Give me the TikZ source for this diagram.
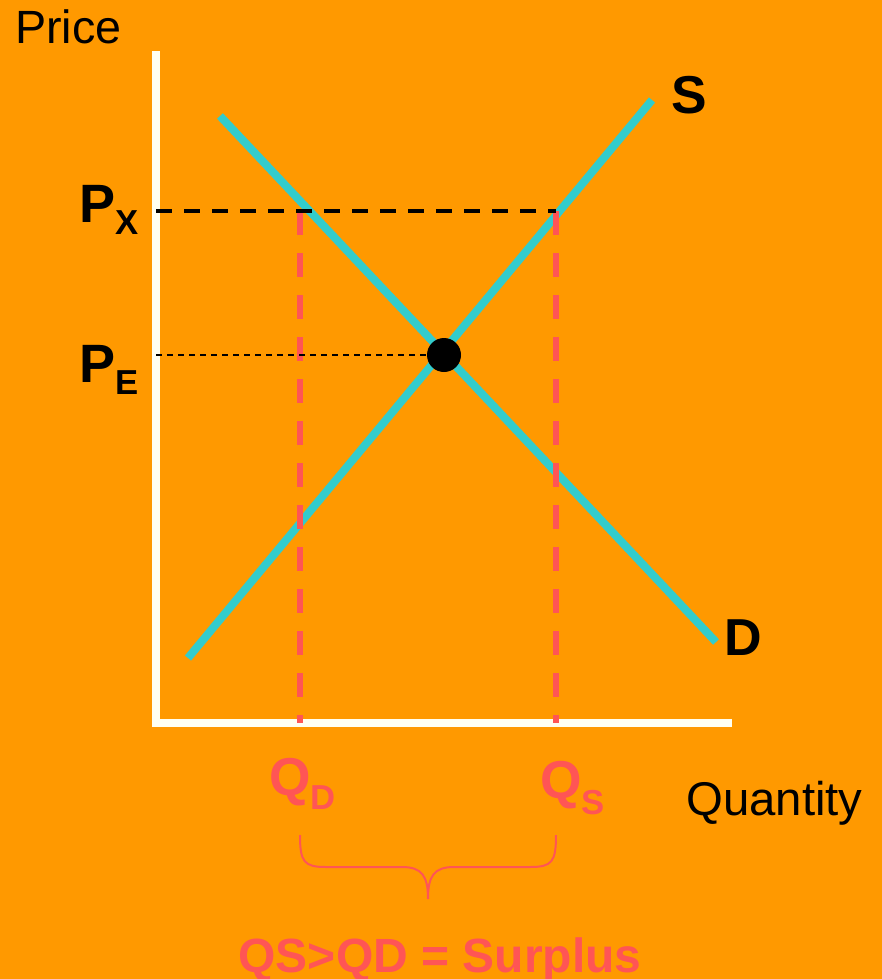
\documentclass[tikz,border=0pt]{standalone}
\usepackage{fontspec}
\setmainfont{Liberation Sans}
\definecolor{bgorange}{HTML}{FF9900}
\definecolor{axiswhite}{HTML}{FFFFF2}
\definecolor{curvecyan}{HTML}{33CCCC}
\definecolor{surplusred}{HTML}{FF5555}
\tikzset{
  axisline/.style={draw=axiswhite, line width=6pt},
  curveline/.style={draw=curvecyan, line width=6pt},
  qline/.style={draw=surplusred, line width=4.5pt, dash pattern=on 18pt off 13.5pt},
  pxline/.style={draw=black, line width=3pt, dash pattern=on 12pt off 9pt},
  peline/.style={draw=black, line width=1.5pt, dash pattern=on 4.5pt off 3.75pt},
  bracestyle/.style={draw=surplusred, line width=1.5pt},
  lbl/.style={inner sep=0pt, anchor=base west},
}
\begin{document}
\begin{tikzpicture}[x=0.75pt, y=-0.75pt]
\fill[bgorange] (0,0) rectangle (882,979);
\useasboundingbox (0,0) rectangle (882,979);

% coordinates
\coordinate (ytop) at (156,51);
\coordinate (orig) at (156,723);
\coordinate (xend) at (732,723);
\coordinate (s1) at (188,658);
\coordinate (s2) at (652,100);
\coordinate (d1) at (220,116);
\coordinate (d2) at (716,642);
\coordinate (pxa) at (156,211);
\coordinate (pxb) at (556,211);
\coordinate (pea) at (156,355);
\coordinate (qdtop) at (300,211);
\coordinate (qdbot) at (300,723);
\coordinate (qstop) at (556,211);
\coordinate (qsbot) at (556,723);

% axes
\draw[axisline] (ytop) -- (orig) -- (xend);

% supply and demand
\draw[curveline] (s1) -- (s2);
\draw[curveline] (d1) -- (d2);

% quantity dashed lines
\draw[qline] (qdtop) -- (qdbot);
\draw[qline] (qstop) -- (qsbot);

% equilibrium point
\node[circle, fill=black, minimum size=25.5pt, inner sep=0pt] (eq) at (444,355) {};

% price dashed lines
\draw[pxline] (pxa) -- (pxb);
\draw[peline] (pea) -- (eq.west);

% labels
\node[lbl] (price) at (15,43) {\fontsize{35}{35}\selectfont Price};
\node[lbl] (quantity) at (686,815) {\fontsize{35.5}{35.5}\selectfont Quantity};
\node[lbl] (slbl) at (671,113) {\fontsize{40}{40}\selectfont\bfseries S};
\node[lbl] (dlbl) at (724,655) {\fontsize{39}{39}\selectfont\bfseries D};
\node[lbl] (pxlbl) at (79,222) {\bfseries\fontsize{40.5}{40}\selectfont P\raisebox{-9pt}{\fontsize{26}{26}\selectfont X}};
\node[lbl] (pelbl) at (79,382) {\bfseries\fontsize{40.5}{40}\selectfont P\raisebox{-9pt}{\fontsize{26}{26}\selectfont E}};
\node[lbl, text=surplusred] (qdlbl) at (269,795) {\bfseries\fontsize{40}{40}\selectfont Q\raisebox{-11pt}{\fontsize{26}{26}\selectfont D}};
\node[lbl, text=surplusred] (qslbl) at (540,798) {\bfseries\fontsize{40}{40}\selectfont Q\raisebox{-12pt}{\fontsize{26}{26}\selectfont S}};

% brace
\coordinate (bl) at (300,835);
\coordinate (br) at (556,835);
\coordinate (btip) at (428,899);
\draw[bracestyle] (bl) .. controls (300,862) and (304,867) .. (326,867) -- (402,867)
  .. controls (422,867) and (428,876) .. (btip)
  .. controls (428,876) and (434,867) .. (454,867) -- (530,867)
  .. controls (552,867) and (556,862) .. (br);

\node[inner sep=0pt, anchor=base, text=surplusred] (surplus) at (440,972) {\bfseries\fontsize{36}{36}\selectfont QS>QD = Surplus};
\end{tikzpicture}
\end{document}
